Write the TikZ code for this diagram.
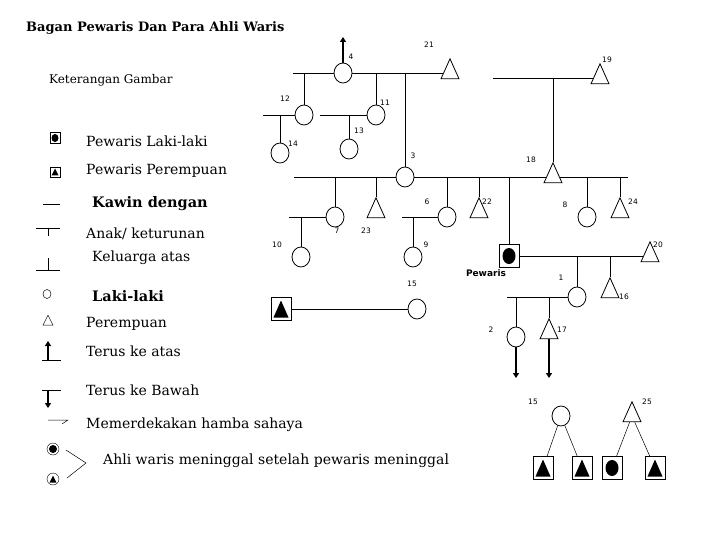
\documentclass[tikz,border=0pt]{standalone}
\usepackage{fontspec}
\setmainfont{DejaVu Serif}
\setsansfont{DejaVu Sans}
\usetikzlibrary{positioning,arrows.meta,shapes.geometric,calc}
\tikzset{
  lk/.style={ellipse, draw, line width=0.8pt, minimum width=18pt,
             minimum height=20pt, inner sep=0pt},
  pr/.style={isosceles triangle, isosceles triangle stretches,
             shape border rotate=90, draw, line width=0.8pt,
             minimum width=18pt, minimum height=20pt, inner sep=0pt},
  kotak/.style={rectangle, draw, line width=0.8pt, minimum width=20pt,
                minimum height=23pt, inner sep=0pt},
  kotaklk/.style={kotak, path picture={\fill[black]
        (path picture bounding box.center) ellipse (6.5pt and 8pt);}},
  kotakpr/.style={kotak, path picture={\fill[black]
        ($(path picture bounding box.center)+(0pt,8.5pt)$) -- ++(7.5pt,-17pt)
        -- ++(-15pt,0pt) -- cycle;}},
  ikonlk/.style={rectangle, draw, line width=0.8pt, minimum width=10pt,
                 minimum height=11pt, inner sep=0pt, path picture={\fill[black]
        (path picture bounding box.center) ellipse (3.5pt and 4pt);}},
  ikonpr/.style={rectangle, draw, line width=0.8pt, minimum width=10pt,
                 minimum height=10pt, inner sep=0pt, path picture={\fill[black]
        ($(path picture bounding box.center)+(0pt,3.5pt)$) -- ++(3.5pt,-7pt)
        -- ++(-7pt,0pt) -- cycle;}},
  garis/.style={line width=0.8pt},
  tipis/.style={line width=0.5pt},
  panah/.style={-{Triangle[length=5pt,width=6pt]}, line width=2pt},
  nomor/.style={font=\sffamily\fontsize{7.5}{8}\selectfont, inner sep=0pt},
  ket/.style={anchor=west, inner sep=0pt, font=\fontsize{14}{16}\selectfont},
  ketb/.style={anchor=west, inner sep=0pt, font=\bfseries\fontsize{14.5}{17}\selectfont},
}

\begin{document}
\begin{tikzpicture}[x=1pt,y=-1pt]
  \useasboundingbox (0,0) rectangle (720,540);

  % judul
  \node[anchor=west, inner sep=0pt, font=\bfseries\fontsize{13}{15}\selectfont]
    (judul) at (26,28) {Bagan Pewaris Dan Para Ahli Waris};
  \node[ket, font=\fontsize{12}{14}\selectfont] (ketjudul) at (49,80) {Keterangan Gambar};

  % keterangan
  \node[ikonlk] (ik1) at (55,138) {};
  \node[ket] (k1) at (86,141) {Pewaris Laki-laki};
  \node[ikonpr] (ik2) at (55,172) {};
  \node[ket] (k2) at (86,171) {Pewaris Perempuan};
  \draw[tipis] (43,204) -- (60,204);
  \node[ketb] (k3) at (92,204) {Kawin dengan};
  \draw[tipis] (36,228) -- (60,228) (48,228) -- (48,236);
  \node[ket] (k4) at (86,234) {Anak/ keturunan};
  \draw[tipis] (36,270) -- (60,270) (48,258) -- (48,270);
  \node[ket] (k5) at (92,258) {Keluarga atas};
  \node[lk, minimum width=8pt, minimum height=9pt, line width=0.5pt] (ik6) at (47,294) {};
  \node[ketb] (k6) at (92,296) {Laki-laki};
  \node[pr, minimum width=10pt, minimum height=10pt, line width=0.5pt] (ik7) at (48,322) {};
  \node[ket] (k7) at (86,324) {Perempuan};
  \draw[tipis] (42,360) -- (61,360);
  \draw[panah] (48,360) -- (48,341);
  \node[ket] (k8) at (86,351) {Terus ke atas};
  \draw[tipis] (42,390) -- (61,390);
  \draw[panah] (48,390) -- (48,408);
  \node[ket] (k9) at (86,390) {Terus ke Bawah};
  \draw[tipis] (48,420) -- (68,420) -- (62,424);
  \node[ket] (k10) at (86,425) {Memerdekakan hamba sahaya};
  \node[circle, draw, minimum size=12pt, inner sep=0pt, path picture={\fill
        (path picture bounding box.center) circle (4pt);}] (ik11) at (53,449) {};
  \node[circle, draw, minimum size=12pt, inner sep=0pt, path picture={\fill
        ($(path picture bounding box.center)+(0pt,3.5pt)$) -- ++(3.5pt,-7pt)
        -- ++(-7pt,0pt) -- cycle;}] (ik12) at (53,479) {};
  \draw[tipis] (66,450) -- (86,463) -- (67,478);
  \node[ket] (k11) at (103,461) {Ahli waris meninggal setelah pewaris meninggal};

  % orang
  \foreach \n/\x/\y in {4/343/73, 12/304/115, 11/376/115, 3/405/177, 14/280/153,
      13/349/149, 7/335/217, 6/447/217, 8/587/217, 10/301/257, 9/413/257,
      15/417/309, 1/577/297, 2/516/337, 15b/561/416}
    \node[lk] (p\n) at (\x,\y) {};
  \foreach \n/\x/\y in {21/450/73, 19/600/78, 18/553/177, 23/376/212, 22/479/212,
      24/620/212, 20/650/256, 16/610/292, 17/549/333, 25/632/416}
    \node[pr] (p\n) at (\x,\y) {};
  \node[kotaklk] (pw) at (509,256) {};
  \node[kotakpr] (pwp) at (281,309) {};
  \node[kotakpr] (q1) at (543,468) {};
  \node[kotakpr] (q2) at (582,468) {};
  \node[kotaklk] (q3) at (612,468) {};
  \node[kotakpr] (q4) at (655,468) {};

  % ujung garis
  \coordinate (a4) at (293,73);
  \coordinate (a12) at (263,115);
  \coordinate (a11) at (320,115);
  \coordinate (a19) at (493,78);
  \coordinate (a3) at (294,177);
  \coordinate (e18) at (628,177);
  \coordinate (a7) at (289,217);
  \coordinate (a6) at (402,217);
  \coordinate (a1) at (507,297);
  \coordinate (u4) at (343,37);
  \coordinate (d2) at (516,378);
  \coordinate (d17) at (549,378);

  % perkawinan
  \draw[garis] (a4) -- (p4) -- (p21);
  \draw[garis] (a12) -- (p12);
  \draw[garis] (a11) -- (p11);
  \draw[garis] (a19) -- (p19);
  \draw[garis] (a3) -- (p3) -- (p18) -- (e18);
  \draw[garis] (a7) -- (p7);
  \draw[garis] (a6) -- (p6);
  \draw[garis] (pw) -- (p20);
  \draw[garis] (a1) -- (p1);
  \draw[garis] (pwp) -- (p15);

  % keturunan
  \foreach \c/\o in {p12/p4, p11/p4, p3/p4, p14/p12, p13/p11, p18/p19,
      p7/p3, p23/p3, p6/p3, p22/p3, pw/p3, p8/p3, p24/p3, p10/p7, p9/p6,
      p1/pw, p16/pw, p2/p1, p17/p1}
    \draw[garis] (\c |- \o) -- (\c);

  % terus ke atas / ke bawah
  \draw[panah] (p4) -- (u4);
  \draw[panah] (p2) -- (d2);
  \draw[panah] (p17) -- (d17);

  % ahli waris meninggal
  \draw[tipis] (p15b) -- (q1);
  \draw[tipis] (p15b) -- (q2);
  \draw[tipis] (p25) -- (q3);
  \draw[tipis] (p25) -- (q4);

  % nomor
  \foreach \k/\t/\x/\y in {4/4/351/57, 21/21/429/45, 19/19/607/60, 12/12/285/99,
      11/11/385/103, 13/13/359/131, 14/14/293/144, 3/3/413/156, 18/18/531/160,
      6/6/427/202, 22/22/487/202, 8/8/565/205, 24/24/633/202, 7/7/337/231,
      23/23/366/231, 10/10/277/245, 9/9/426/245, 20/20/658/245, 15/15/412/284,
      1/1/561/278, 16/16/624/297, 2/2/491/330, 17/17/562/330, 15b/15/533/402,
      25/25/647/402}
    \node[nomor] (n\k) at (\x,\y) {\t};
  \node[font=\sffamily\bfseries\fontsize{9}{10}\selectfont, inner sep=0pt]
    (npw) at (486,273) {Pewaris};
\end{tikzpicture}
\end{document}
